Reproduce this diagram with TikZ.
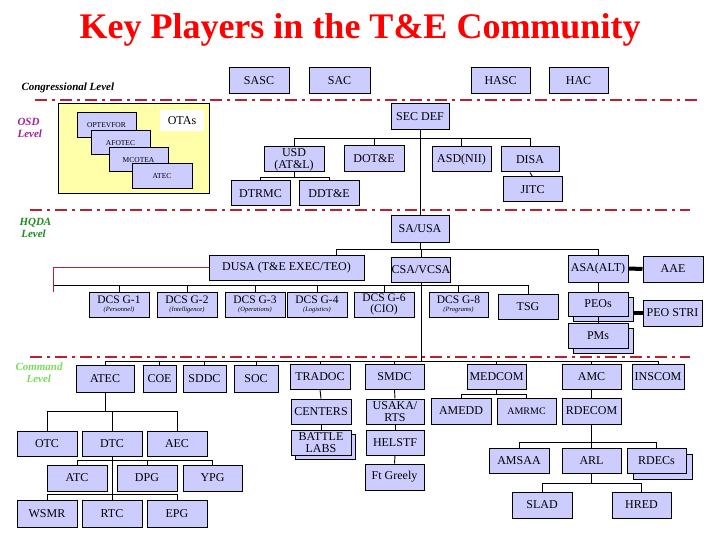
\documentclass[tikz,border=0pt]{standalone}
\usepackage{fontspec}
\setmainfont{Liberation Serif}
\definecolor{lav}{RGB}{204,204,255}
\definecolor{dred}{RGB}{190,30,45}
\definecolor{yel}{RGB}{255,255,170}
\definecolor{purp}{RGB}{160,32,160}
\definecolor{hgreen}{RGB}{30,140,30}
\definecolor{lgreen}{RGB}{120,220,90}
\newcommand\B[6]{\node[bx,minimum width={(#4-#2)*1pt},minimum height={(#5-#3)*1pt}] (#1) at ({(#2+#4)/2},{(#3+#5)/2}) {#6};}
\newcommand\SB[7]{\node[bx,minimum width={(#4-#2)*1pt},minimum height={(#5-#3)*1pt}] (#1s) at ({(#2+#4)/2+#7},{(#3+#5)/2+#7}) {};
\B{#1}{#2}{#3}{#4}{#5}{#6}}
\newcommand\sub[1]{\\[-3pt]{\fontsize{6.5}{7}\selectfont\itshape #1}}
\begin{document}
\begin{tikzpicture}[x=1pt,y=-1pt,
  bx/.style={draw=black,fill=lav,line width=1pt,inner sep=0pt,align=center,font=\fontsize{12}{12}\selectfont},
  ln/.style={draw=black,line width=0.9pt},
  lvl/.style={dred,line width=2.4pt,dash pattern=on 12pt off 5pt on 3pt off 5pt},
  lab/.style={anchor=west,font=\fontsize{11}{12}\selectfont\bfseries\itshape,align=left}]
\useasboundingbox[fill=white] (0,0) rectangle (720,540);
\node[text=red,font=\fontsize{36}{38}\selectfont\bfseries] (title) at (360,30) {Key Players in the T\&E Community};
% level lines
\draw[lvl] (35,100) -- (700,100);
\draw[lvl] (30,210) -- (690,210);
\draw[lvl] (30,357) -- (690,357);
\node[lab] (cl) at (18,88) {Congressional Level};
\node[lab,text=purp] (ol) at (14,128) {OSD\\Level};
\node[lab,text=hgreen] (hl) at (16,228) {HQDA\\\,Level};
\node[lab,text=lgreen] (kl) at (12,373) {Command\\\quad Level};
% congress
\B{sasc}{229}{68}{289}{94}{SASC}
\B{sac}{309}{68}{370}{94}{SAC}
\B{hasc}{471}{68}{530}{94}{HASC}
\B{hac}{549}{68}{608}{94}{HAC}
% OSD
\node[draw=black,fill=yel,line width=1pt,minimum width=151pt,minimum height=90pt,inner sep=0pt] (ybox) at (133.5,149) {};
\node[fill=white,minimum width=44pt,minimum height=21pt,inner sep=0pt,font=\fontsize{12}{12}\selectfont] (otas) at (182,120.5) {OTAs};
\begin{scope}[bx/.append style={font=\fontsize{7.5}{7.5}\selectfont}]
\B{optev}{77}{113}{136}{138}{OPTEVFOR}
\B{afotec}{91}{131}{150}{155}{AFOTEC}
\B{mcotea}{109}{148}{168}{172}{MCOTEA}
\B{atec1}{132}{164}{192}{189}{ATEC}
\end{scope}
\B{secdef}{391}{104}{449}{130}{SEC DEF}
\B{usd}{264}{147}{324}{172}{USD\\(AT\&L)}
\B{dote}{344}{146}{404}{172}{DOT\&E}
\B{asdnii}{432}{147}{491}{172}{ASD(NII)}
\B{disa}{501}{147}{559}{172}{DISA}
\B{jitc}{503}{177}{562}{202}{JITC}
\B{dtrmc}{231}{181}{290}{206}{DTRMC}
\B{ddte}{299}{181}{359}{206}{DDT\&E}
\coordinate (y138) at (0,138);
\draw[ln] (secdef.south) -- (secdef.south|-y138);
\draw[ln] (usd.north) -- (usd.north|-y138) -- (disa.north|-y138) -- (disa.north);
\draw[ln] (dote.north) -- (dote.north|-y138);
\draw[ln] (asdnii.north) -- (asdnii.north|-y138);
\draw[ln] (disa.south) -- (jitc.north);
\coordinate (y177) at (0,177);
\draw[ln] (usd.south) -- (usd.south|-y177);
\draw[ln] (dtrmc.north) -- (dtrmc.north|-y177) -- (ddte.north|-y177) -- (ddte.north);
% HQDA
\B{sausa}{391}{216}{449}{242}{SA/USA}
\draw[ln] (secdef.south) -- (sausa.north);
\B{dusa}{209}{255}{364}{280}{DUSA (T\&E EXEC/TEO)}
\B{csa}{392}{257}{450}{282}{CSA/VCSA}
\B{asa}{568}{255}{628}{282}{ASA(ALT)}
\B{aae}{643}{256}{703}{282}{AAE}
\coordinate (y249) at (0,249);
\coordinate (dx) at (336,255);
\draw[ln] (sausa.south) -- (sausa.south|-y249);
\draw[ln] (dx) -- (dx|-y249) -- (asa.north|-y249) -- (asa.north);
\draw[ln] (csa.north) -- (csa.north|-y249);
\draw[line width=4pt] (asa.east) -- (aae.west);
\begin{scope}[bx/.append style={font=\fontsize{11.5}{11}\selectfont}]
\B{g1}{89}{292}{149}{317}{DCS G-1\sub{(Personnel)}}
\B{g2}{157}{292}{217}{317}{DCS G-2\sub{(Intelligence)}}
\B{g3}{225}{292}{285}{317}{DCS G-3\sub{(Operations)}}
\B{g4}{287}{292}{347}{317}{DCS G-4\sub{(Logistics)}}
\B{g6}{354}{292}{414}{317}{DCS G-6\\(CIO)}
\B{g8}{429}{292}{488}{317}{DCS G-8\sub{(Programs)}}
\end{scope}
\B{tsg}{498}{294}{558}{319}{TSG}
\coordinate (y285) at (0,285);
\coordinate (rl) at (53,292);
\draw[ln] (rl|-y285) -- (tsg.north|-y285) -- (tsg.north);
\draw[dred,line width=1pt] (dusa.west) -- (dusa.west-|rl) -- (rl);
\foreach \n in {g1,g2,g3,g4,g6,g8} \draw[ln] (\n.north) -- (\n.north|-y285);
\SB{peos}{568}{292}{628}{316}{PEOs}{5}
\SB{pms}{568}{323}{628}{348}{PMs}{5}
\B{peostri}{643}{300}{702}{326}{PEO STRI}
\draw[ln] (asa.south) -- (peos.north);
\draw[ln] (peos.south) -- (pms.north);
\draw[line width=4pt] (peoss.east|-peostri.west) -- (peostri.west);
% Command
\B{atec}{76}{365}{134}{392}{ATEC}
\B{coe}{143}{365}{176}{392}{COE}
\B{sddc}{183}{365}{226}{392}{SDDC}
\B{soc}{234}{365}{278}{392}{SOC}
\B{tradoc}{290}{364}{350}{389}{TRADOC}
\B{smdc}{365}{364}{424}{389}{SMDC}
\B{medcom}{467}{364}{526}{389}{MEDCOM}
\B{amc}{562}{364}{621}{389}{AMC}
\B{inscom}{632}{364}{684}{389}{INSCOM}
\coordinate (y361) at (0,361);
\draw[ln] (csa.south) -- (csa.south|-y361);
\draw[ln] (atec.north) -- (atec.north|-y361) -- (inscom.north|-y361) -- (inscom.north);
\foreach \n in {coe,sddc,soc,tradoc,smdc,medcom,amc} \draw[ln] (\n.north) -- (\n.north|-y361);
\B{centers}{291}{399}{351}{424}{CENTERS}
\SB{blabs}{291}{430}{351}{455}{BATTLE\\LABS}{4}
\draw[ln] (tradoc.south) -- (centers.north);
\draw[ln] (centers.south) -- (blabs.north);
\B{usaka}{366}{399}{424}{424}{USAKA/\\RTS}
\B{helstf}{366}{430}{424}{455}{HELSTF}
\B{ftg}{365}{464}{424}{490}{Ft Greely}
\draw[ln] (smdc.south) -- (usaka.north);
\draw[ln] (usaka.south) -- (helstf.north);
\draw[ln] (helstf.south) -- (ftg.north);
\B{amedd}{431}{398}{491}{424}{AMEDD}
\B{amrmc}{497}{398}{556}{424}{\fontsize{10}{10}\selectfont AMRMC}
\coordinate (y394) at (0,394);
\draw[ln] (medcom.south) -- (medcom.south|-y394);
\draw[ln] (amedd.north) -- (amedd.north|-y394) -- (amrmc.north|-y394) -- (amrmc.north);
\B{rdecom}{562}{398}{621}{424}{RDECOM}
\draw[ln] (amc.south) -- (rdecom.north);
\B{amsaa}{489}{448}{549}{473}{AMSAA}
\B{arl}{562}{448}{621}{473}{ARL}
\SB{rdecs}{627}{448}{686}{473}{RDECs}{6}
\coordinate (y442) at (0,442);
\draw[ln] (rdecom.south) -- (arl.north);
\draw[ln] (amsaa.north) -- (amsaa.north|-y442) -- (rdecs.north|-y442) -- (rdecs.north);
\B{slad}{512}{492}{572}{518}{SLAD}
\B{hred}{612}{492}{671}{518}{HRED}
\coordinate (y483) at (0,483);
\draw[ln] (arl.south) -- (arl.south|-y483);
\draw[ln] (slad.north) -- (slad.north|-y483) -- (hred.north|-y483) -- (hred.north);
% ATEC tree
\B{otc}{17}{431}{77}{456}{OTC}
\B{dtc}{82}{431}{142}{456}{DTC}
\B{aec}{147}{431}{207}{456}{AEC}
\coordinate (y411) at (0,411);
\draw[ln] (atec.south) -- (atec.south|-y411);
\draw[ln] (otc.north) -- (otc.north|-y411) -- (aec.north|-y411) -- (aec.north);
\draw[ln] (dtc.north) -- (dtc.north|-y411);
\B{atc}{47}{465}{107}{491}{ATC}
\B{dpg}{117}{465}{177}{491}{DPG}
\B{ypg}{183}{465}{242}{491}{YPG}
\B{wsmr}{17}{500}{77}{527}{WSMR}
\B{rtc}{82}{500}{142}{527}{RTC}
\B{epg}{147}{500}{207}{527}{EPG}
\coordinate (y460) at (0,460);
\coordinate (y494) at (0,494);
\draw[ln] (dtc.south) -- (rtc.north);
\draw[ln] (atc.north) -- (atc.north|-y460) -- (ypg.north|-y460) -- (ypg.north);
\draw[ln] (dpg.north) -- (dpg.north|-y460);
\draw[ln] (wsmr.north) -- (wsmr.north|-y494) -- (epg.north|-y494) -- (epg.north);
\end{tikzpicture}
\end{document}
